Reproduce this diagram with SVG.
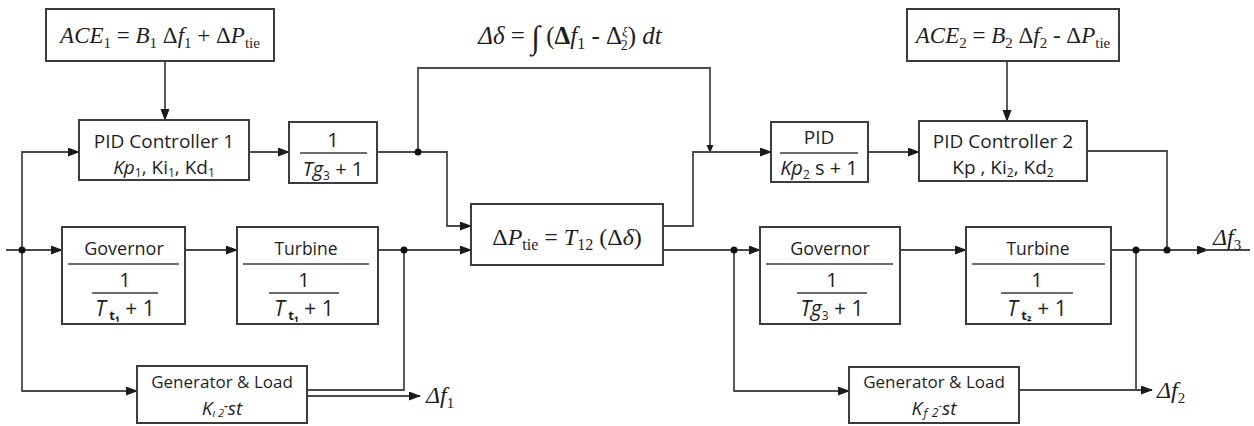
<svg xmlns="http://www.w3.org/2000/svg" width="1254" height="426" viewBox="0 0 1254 426">
  <defs>
    <marker id="arrow" markerWidth="12" markerHeight="10" refX="11" refY="4.5" orient="auto" markerUnits="userSpaceOnUse">
      <path d="M0,0 L12,4.5 L0,9 z" fill="#1a1a1a"/>
    </marker>
    <marker id="arrowSm" markerWidth="8" markerHeight="8" refX="7" refY="3.5" orient="auto" markerUnits="userSpaceOnUse">
      <path d="M0,0 L8,3.5 L0,7 z" fill="#1a1a1a"/>
    </marker>
    <style>
      .box { fill: #ffffff; stroke: #3c3c3c; stroke-width: 2; }
      .rule { stroke: #3c3c3c; stroke-width: 1.6; }
      .wire { fill: none; stroke: #4a4a4a; stroke-width: 1.8; }
      .arr { marker-end: url(#arrow); }
      .dot { fill: #111111; }
      .sans { font-family: "Open Sans", "Noto Sans", sans-serif; fill: #1e1e1e; }
      .math { font-family: "Liberation Serif", "DejaVu Serif", serif; font-style: italic; fill: #1e1e1e; }
      .up { font-style: normal; }
      .it { font-style: italic; }
    </style>
  </defs>
  <rect width="1254" height="426" fill="#ffffff"/>

  <!-- connectors -->
  <g id="connectors">
    <path class="wire arr" d="M165,61 V120"/>
    <path class="wire arr" d="M1007,61 V121"/>
    <path class="wire arr" d="M249,152 H289"/>
    <path class="wire arr" d="M377,152 H447 V226 H471"/>
    <path class="wire" d="M418,152 V68 H710 V152" marker-end="url(#arrowSm)"/>
    <path class="wire arr" d="M6,250 H62"/>
    <path class="wire arr" d="M22,250 V152 H79"/>
    <path class="wire arr" d="M22,250 V391 H137"/>
    <path class="wire arr" d="M185,250 H237"/>
    <path class="wire arr" d="M378,250 H471"/>
    <path class="wire" d="M404,250 V390 H307"/>
    <path class="wire arr" d="M307,396 H420"/>
    <path class="wire arr" d="M663,226 H693 V152 H771"/>
    <path class="wire arr" d="M663,250 H760"/>
    <path class="wire arr" d="M734,250 V391 H849"/>
    <path class="wire arr" d="M868,152 H919"/>
    <path class="wire" d="M1087,151 H1167 V250"/>
    <path class="wire arr" d="M900,250 H966"/>
    <path class="wire arr" d="M1111,250 H1208"/>
    <path class="wire" d="M1205,250 H1250"/>
    <path class="wire" d="M1136,250 V390"/>
    <path class="wire arr" d="M1019,390 H1152"/>
    <circle class="dot" cx="22" cy="250" r="3.5"/>
    <circle class="dot" cx="418" cy="152" r="3.5"/>
    <circle class="dot" cx="404" cy="250" r="3.5"/>
    <circle class="dot" cx="734" cy="250" r="3.5"/>
    <circle class="dot" cx="1136" cy="250" r="3.5"/>
    <circle class="dot" cx="1167" cy="250" r="3.5"/>
    <!-- signal labels -->
    <text class="math" x="426" y="403" font-size="24">Δ<tspan>f</tspan><tspan class="up" font-size="15" dy="5">1</tspan></text>
    <text class="math" x="1157" y="398" font-size="24">Δ<tspan>f</tspan><tspan class="up" font-size="15" dy="5">2</tspan></text>
    <text class="math" x="1213" y="245" font-size="24">Δ<tspan>f</tspan><tspan class="up" font-size="15" dy="5">3</tspan></text>
    <text class="math" x="570" y="44" font-size="25" text-anchor="middle">Δδ <tspan class="up">= </tspan><tspan class="up" font-size="32" dy="4">∫</tspan><tspan class="up" dy="-4"> (</tspan><tspan class="up" font-weight="bold">Δ</tspan>f<tspan class="up" font-size="16" dy="5">1</tspan><tspan class="up" dy="-5"> - Δ</tspan><tspan font-size="13" dy="-8">ξ</tspan><tspan class="up" font-size="14" dx="-7" dy="14">2</tspan><tspan class="up" dy="-6">)</tspan> dt</text>
  </g>

  <!-- area 1 -->
  <g id="ace1">
    <rect class="box" x="46" y="9" width="228" height="52"/>
    <text class="math" x="160" y="43" font-size="23" text-anchor="middle">ACE<tspan class="up" font-size="15" dy="5">1</tspan><tspan class="up" dy="-5"> = </tspan>B<tspan class="up" font-size="15" dy="5">1</tspan><tspan class="up" dy="-5"> Δ</tspan>f<tspan class="up" font-size="15" dy="5">1</tspan><tspan class="up" dy="-5"> + Δ</tspan>P<tspan class="up" font-size="15" dy="5">tie</tspan></text>
  </g>
  <g id="pid-controller-1">
    <rect class="box" x="79" y="120" width="170" height="60"/>
    <text class="sans" x="164" y="148" font-size="19" text-anchor="middle">PID Controller 1</text>
    <text class="sans" x="164" y="174" font-size="19" text-anchor="middle"><tspan class="it">Kp</tspan><tspan font-size="12" dy="3">1</tspan><tspan dy="-3">, Ki</tspan><tspan font-size="12" dy="3">1</tspan><tspan dy="-3">, Kd</tspan><tspan font-size="12" dy="3">1</tspan></text>
  </g>
  <g id="lag-1">
    <rect class="box" x="289" y="122" width="88" height="61"/>
    <text class="sans" x="333" y="147" font-size="20" text-anchor="middle">1</text>
    <line class="rule" x1="300" y1="153" x2="367" y2="153"/>
    <text class="sans" x="333" y="176" font-size="20" text-anchor="middle"><tspan class="it">Tg</tspan><tspan font-size="12" dy="4">3</tspan><tspan dy="-4"> + 1</tspan></text>
  </g>
  <g id="governor-1">
    <rect class="box" x="62" y="227" width="123" height="97"/>
    <text class="sans" x="124" y="255" font-size="18" text-anchor="middle">Governor</text>
    <line class="rule" x1="68" y1="264" x2="179" y2="264"/>
    <text class="sans" x="125" y="287" font-size="20" text-anchor="middle">1</text>
    <line class="rule" x1="92" y1="293" x2="158" y2="293"/>
    <text class="sans" x="125" y="316" font-size="21" text-anchor="middle"><tspan class="it">T</tspan><tspan font-size="13" dy="4" font-weight="bold"> t₁</tspan><tspan dy="-4"> + 1</tspan></text>
  </g>
  <g id="turbine-1">
    <rect class="box" x="237" y="227" width="141" height="97"/>
    <text class="sans" x="306" y="255" font-size="17.5" text-anchor="middle">Turbine</text>
    <line class="rule" x1="243" y1="264" x2="369" y2="264"/>
    <text class="sans" x="304" y="287" font-size="20" text-anchor="middle">1</text>
    <line class="rule" x1="269" y1="293" x2="339" y2="293"/>
    <text class="sans" x="304" y="316" font-size="21" text-anchor="middle"><tspan class="it">T</tspan><tspan font-size="13" dy="4" font-weight="bold"> t₁</tspan><tspan dy="-4"> + 1</tspan></text>
  </g>
  <g id="generator-load-1">
    <rect class="box" x="137" y="366" width="170" height="57"/>
    <text class="sans" x="222" y="388" font-size="17" text-anchor="middle">Generator &amp; Load</text>
    <text class="sans" x="222" y="415" font-size="19" text-anchor="middle"><tspan class="it">K</tspan><tspan class="it" font-size="11" dy="2">ı 2</tspan><tspan font-size="11" font-weight="bold" dy="-8">-</tspan><tspan class="it" dy="6">st</tspan></text>
  </g>

  <!-- tie line -->
  <g id="tie-line">
    <rect class="box" x="471" y="204" width="192" height="61"/>
    <text class="math" x="567" y="245" font-size="24" text-anchor="middle"><tspan class="up">Δ</tspan>P<tspan class="up" font-size="16" dy="5">tie</tspan><tspan class="up" dy="-5"> = </tspan>T<tspan class="up" font-size="16" dy="5">12</tspan><tspan class="up" dy="-5"> (Δ</tspan>δ<tspan class="up">)</tspan></text>
  </g>

  <!-- area 2 -->
  <g id="ace2">
    <rect class="box" x="907" y="9" width="212" height="52"/>
    <text class="math" x="1013" y="43" font-size="23" text-anchor="middle">ACE<tspan class="up" font-size="15" dy="5">2</tspan><tspan class="up" dy="-5"> = </tspan>B<tspan class="up" font-size="15" dy="5">2</tspan><tspan class="up" dy="-5"> Δ</tspan>f<tspan class="up" font-size="15" dy="5">2</tspan><tspan class="up" dy="-5"> - Δ</tspan>P<tspan class="up" font-size="15" dy="5">tie</tspan></text>
  </g>
  <g id="pid-filter">
    <rect class="box" x="771" y="122" width="97" height="60"/>
    <text class="sans" x="819" y="144" font-size="19" text-anchor="middle">PID</text>
    <line class="rule" x1="780" y1="153" x2="858" y2="153"/>
    <text class="sans" x="819" y="175" font-size="20" text-anchor="middle"><tspan class="it">Kp</tspan><tspan font-size="12" dy="4">2</tspan><tspan dy="-4"> s  + 1</tspan></text>
  </g>
  <g id="pid-controller-2">
    <rect class="box" x="919" y="121" width="168" height="60"/>
    <text class="sans" x="1003" y="148" font-size="19" text-anchor="middle">PID Controller 2</text>
    <text class="sans" x="1003" y="174" font-size="19" text-anchor="middle">Kp , Ki<tspan font-size="12" dy="3">2</tspan><tspan dy="-3">, Kd</tspan><tspan font-size="12" dy="3">2</tspan></text>
  </g>
  <g id="governor-2">
    <rect class="box" x="760" y="227" width="140" height="97"/>
    <text class="sans" x="830" y="255" font-size="18" text-anchor="middle">Governor</text>
    <line class="rule" x1="766" y1="264" x2="893" y2="264"/>
    <text class="sans" x="832" y="287" font-size="20" text-anchor="middle">1</text>
    <line class="rule" x1="797" y1="293" x2="867" y2="293"/>
    <text class="sans" x="832" y="316" font-size="21" text-anchor="middle"><tspan class="it">Tg</tspan><tspan font-size="12" dy="4">3</tspan><tspan dy="-4">  + 1</tspan></text>
  </g>
  <g id="turbine-2">
    <rect class="box" x="966" y="227" width="145" height="97"/>
    <text class="sans" x="1038" y="255" font-size="17.5" text-anchor="middle">Turbine</text>
    <line class="rule" x1="972" y1="264" x2="1105" y2="264"/>
    <text class="sans" x="1037" y="287" font-size="20" text-anchor="middle">1</text>
    <line class="rule" x1="1001" y1="293" x2="1073" y2="293"/>
    <text class="sans" x="1037" y="316" font-size="21" text-anchor="middle"><tspan class="it">T</tspan><tspan font-size="13" dy="4" font-weight="bold"> t₂</tspan><tspan dy="-4">  + 1</tspan></text>
  </g>
  <g id="generator-load-2">
    <rect class="box" x="849" y="367" width="170" height="56"/>
    <text class="sans" x="934" y="388" font-size="17" text-anchor="middle">Generator &amp; Load</text>
    <text class="sans" x="934" y="415" font-size="19" text-anchor="middle"><tspan class="it">K</tspan><tspan class="it" font-size="12" dy="2">ƒ 2</tspan><tspan font-size="11" dy="-8">-</tspan><tspan class="it" dy="6">st</tspan></text>
  </g>
</svg>
